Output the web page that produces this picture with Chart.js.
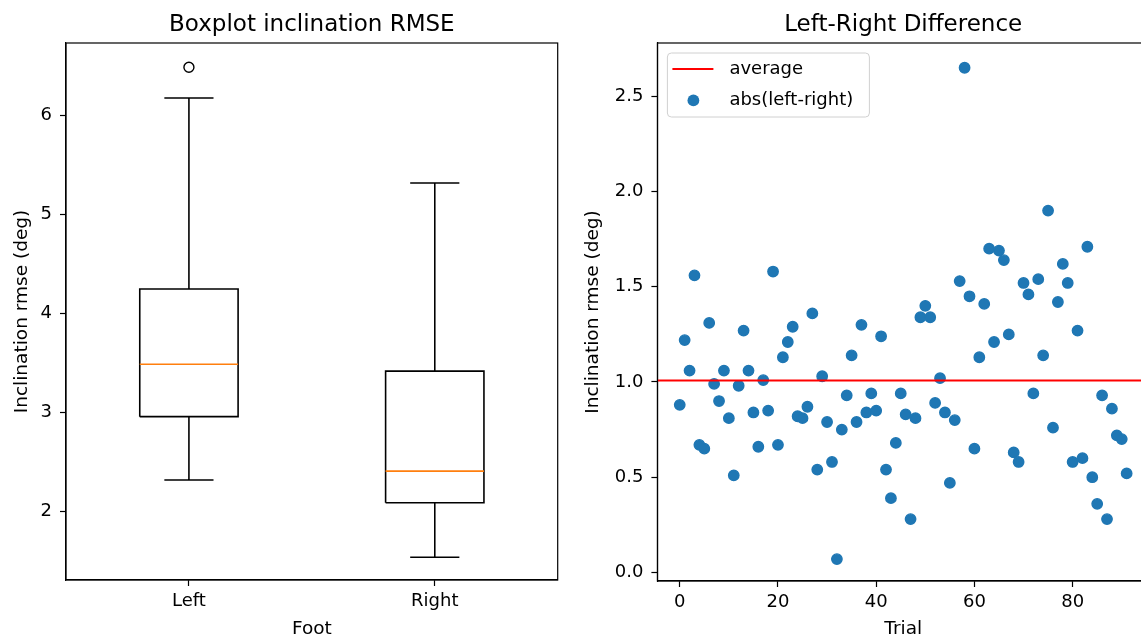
<!DOCTYPE html>
<html>
<head>
<meta charset="utf-8">
<title>Inclination RMSE</title>
<script src="https://cdn.jsdelivr.net/npm/chart.js@4.4.0/dist/chart.umd.min.js"></script>
<style>
  html, body { margin: 0; padding: 0; background: #fff; overflow: hidden; }
  #wrap { position: relative; width: 1141px; height: 642px; overflow: hidden; }
  #boxWrap { position: absolute; left: 0; top: 0; }
  #diffWrap { position: absolute; left: 570px; top: 0; }
</style>
</head>
<body>
<div id="wrap">
  <div id="boxWrap"><canvas id="boxChart" width="570" height="642"></canvas></div>
  <div id="diffWrap"><canvas id="diffChart" width="590" height="642"></canvas></div>
</div>
<script>
// boxplot summary per foot
const feet = ['Left', 'Right'];
const footPos = [1, 2];
const whiskerLow = [2.32, 1.54];
const q1 = [2.96, 2.09];
const median = [3.49, 2.41];
const q3 = [4.25, 3.42];
const whiskerHigh = [6.18, 5.32];
const fliers = [[6.49], []];
const boxYTicks = [2, 3, 4, 5, 6];

// abs(left-right) per trial
const diffValues = [
  0.88, 1.22, 1.06, 1.56, 0.67, 0.65, 1.31, 0.99, 0.90, 1.06,
  0.81, 0.51, 0.98, 1.27, 1.06, 0.84, 0.66, 1.01, 0.85, 1.58,
  0.67, 1.13, 1.21, 1.29, 0.82, 0.81, 0.87, 1.36, 0.54, 1.03,
  0.79, 0.58, 0.07, 0.75, 0.93, 1.14, 0.79, 1.30, 0.84, 0.94,
  0.85, 1.24, 0.54, 0.39, 0.68, 0.94, 0.83, 0.28, 0.81, 1.34,
  1.40, 1.34, 0.89, 1.02, 0.84, 0.47, 0.80, 1.53, 2.65, 1.45,
  0.65, 1.13, 1.41, 1.70, 1.21, 1.69, 1.64, 1.25, 0.63, 0.58,
  1.52, 1.46, 0.94, 1.54, 1.14, 1.90, 0.76, 1.42, 1.62, 1.52,
  0.58, 1.27, 0.60, 1.71, 0.50, 0.36, 0.93, 0.28, 0.86, 0.72,
  0.70, 0.52
];
const trialTicks = [0, 20, 40, 60, 80];
const diffYTicks = [0, 0.5, 1, 1.5, 2, 2.5];

const average = diffValues.reduce((a, b) => a + b, 0) / diffValues.length;

const BOX_HALF = 0.2;
const CAP_HALF = 0.1;
const TRIAL_MIN = -4.55, TRIAL_MAX = 95.55;

const FONT = "'DejaVu Sans', sans-serif";
Chart.defaults.font.family = FONT;
Chart.defaults.color = '#000';

// gap marker so one line dataset can hold several separate segments
const gap = (x) => ({ x: x, y: null });

function boxOutline() {
  const pts = [];
  footPos.forEach((p, i) => {
    pts.push({ x: p - BOX_HALF, y: q1[i] }, { x: p + BOX_HALF, y: q1[i] },
             { x: p + BOX_HALF, y: q3[i] }, { x: p - BOX_HALF, y: q3[i] },
             { x: p - BOX_HALF, y: q1[i] }, gap(p));
  });
  return pts;
}

function whiskerSegments() {
  const pts = [];
  footPos.forEach((p, i) => {
    pts.push({ x: p, y: q1[i] }, { x: p, y: whiskerLow[i] }, gap(p));
    pts.push({ x: p, y: q3[i] }, { x: p, y: whiskerHigh[i] }, gap(p));
    pts.push({ x: p - CAP_HALF, y: whiskerLow[i] }, { x: p + CAP_HALF, y: whiskerLow[i] }, gap(p));
    pts.push({ x: p - CAP_HALF, y: whiskerHigh[i] }, { x: p + CAP_HALF, y: whiskerHigh[i] }, gap(p));
  });
  return pts;
}

function medianSegments() {
  const pts = [];
  footPos.forEach((p, i) => {
    pts.push({ x: p - BOX_HALF, y: median[i] }, { x: p + BOX_HALF, y: median[i] }, gap(p));
  });
  return pts;
}

function flierPoints() {
  const pts = [];
  footPos.forEach((p, i) => fliers[i].forEach(v => pts.push({ x: p, y: v })));
  return pts;
}

// full box around the plot area, like matplotlib spines
const frame = {
  id: 'frame',
  afterDatasetsDraw(chart) {
    const { ctx, chartArea: a } = chart;
    ctx.save();
    ctx.strokeStyle = '#000';
    ctx.lineWidth = 1.2;
    ctx.strokeRect(a.left, a.top, a.right - a.left, a.bottom - a.top);
    ctx.restore();
  }
};

// title centred over the plot area rather than the canvas
const panelTitle = {
  id: 'panelTitle',
  afterDraw(chart, args, opts) {
    const { ctx, chartArea: a } = chart;
    ctx.save();
    ctx.font = opts.size + 'px ' + FONT;
    ctx.fillStyle = '#000';
    ctx.textAlign = 'center';
    ctx.textBaseline = 'alphabetic';
    ctx.fillText(opts.text, (a.left + a.right) / 2, opts.y);
    ctx.restore();
  }
};

// framed legend in the upper left corner of the plot area
const cornerLegend = {
  id: 'cornerLegend',
  afterDraw(chart) {
    const { ctx, chartArea: a } = chart;
    const x = a.left + 10, y = a.top + 10, w = 202, h = 64, r = 4;
    ctx.save();
    ctx.beginPath();
    ctx.roundRect(x, y, w, h, r);
    ctx.fillStyle = 'rgba(255,255,255,0.8)';
    ctx.fill();
    ctx.strokeStyle = '#d0d0d0';
    ctx.lineWidth = 1;
    ctx.stroke();
    ctx.font = '18px ' + FONT;
    ctx.textBaseline = 'middle';
    ctx.textAlign = 'left';
    chart.data.datasets.forEach((ds, i) => {
      const cy = y + 16 + i * 31.4;
      if (ds.showLine) {
        ctx.strokeStyle = ds.borderColor;
        ctx.lineWidth = ds.borderWidth;
        ctx.beginPath();
        ctx.moveTo(x + 5, cy);
        ctx.lineTo(x + 46, cy);
        ctx.stroke();
      } else {
        ctx.fillStyle = ds.backgroundColor;
        ctx.beginPath();
        ctx.arc(x + 26, cy, ds.pointRadius + ds.pointBorderWidth / 2, 0, Math.PI * 2);
        ctx.fill();
      }
      ctx.fillStyle = '#000';
      ctx.fillText(ds.label, x + 62, cy);
    });
    ctx.restore();
  }
};

function axis(extra) {
  return Object.assign({
    type: 'linear',
    grid: { drawOnChartArea: false, drawTicks: true, tickLength: 6, tickWidth: 1.2, tickColor: '#000' },
    border: { display: true, color: '#000', width: 1.2 }
  }, extra);
}

const lineSet = (label, data, color) => ({
  label: label, data: data, showLine: true, spanGaps: false,
  borderColor: color, borderWidth: 1.6, pointRadius: 0, pointHoverRadius: 0
});

new Chart(document.getElementById('boxChart'), {
  type: 'scatter',
  data: {
    datasets: [
      lineSet('median', medianSegments(), '#ff7f0e'),
      lineSet('box', boxOutline(), '#000'),
      lineSet('whiskers', whiskerSegments(), '#000'),
      {
        label: 'fliers', data: flierPoints(),
        pointRadius: 5, pointBorderWidth: 1.4, pointHoverRadius: 5,
        borderColor: '#000', backgroundColor: 'rgba(0,0,0,0)'
      }
    ]
  },
  options: {
    responsive: false,
    animation: false,
    layout: { padding: { left: 0, right: 12.3, top: 43, bottom: 0 } },
    plugins: {
      legend: { display: false },
      tooltip: { enabled: false },
      panelTitle: { text: 'Boxplot inclination RMSE', size: 23, y: 31 }
    },
    scales: {
      x: axis({
        min: 0.5, max: 2.5,
        afterBuildTicks: s => { s.ticks = footPos.map(v => ({ value: v })); },
        afterFit: s => { s.height = 62; },
        ticks: { callback: v => feet[footPos.indexOf(v)], font: { size: 18 }, padding: 5, maxRotation: 0 },
        title: { display: true, text: 'Foot', font: { size: 18.5 }, padding: { top: 0, bottom: 1.6 } }
      }),
      y: axis({
        min: 1.31, max: 6.735,
        afterBuildTicks: s => { s.ticks = boxYTicks.map(v => ({ value: v })); },
        afterFit: s => { s.width = 66; },
        ticks: { font: { size: 18 }, padding: 8 },
        title: { display: true, text: 'Inclination rmse (deg)', font: { size: 18.5 }, padding: { top: 10.6, bottom: 0 } }
      })
    }
  },
  plugins: [frame, panelTitle]
});

new Chart(document.getElementById('diffChart'), {
  type: 'scatter',
  data: {
    datasets: [
      {
        label: 'average',
        data: [{ x: TRIAL_MIN, y: average }, { x: TRIAL_MAX, y: average }],
        showLine: true, borderColor: '#ff0000', borderWidth: 2,
        pointRadius: 0, pointHoverRadius: 0
      },
      {
        label: 'abs(left-right)',
        data: diffValues.map((v, i) => ({ x: i, y: v })),
        pointRadius: 5.2, pointBorderWidth: 1.4, pointHoverRadius: 5.2,
        backgroundColor: '#1f77b4', borderColor: '#1f77b4'
      }
    ]
  },
  options: {
    responsive: false,
    animation: false,
    layout: { padding: { left: 0, right: 11, top: 43, bottom: 0 } },
    plugins: {
      legend: { display: false },
      tooltip: { enabled: false },
      panelTitle: { text: 'Left-Right Difference', size: 23, y: 31 }
    },
    scales: {
      x: axis({
        min: TRIAL_MIN, max: TRIAL_MAX,
        afterBuildTicks: s => { s.ticks = trialTicks.map(v => ({ value: v })); },
        afterFit: s => { s.height = 61; },
        ticks: { callback: v => String(v), font: { size: 18 }, padding: 5, maxRotation: 0 },
        title: { display: true, text: 'Trial', font: { size: 18.5 }, padding: { top: 0, bottom: 1.6 } }
      }),
      y: axis({
        min: -0.045, max: 2.78,
        afterBuildTicks: s => { s.ticks = diffYTicks.map(v => ({ value: v })); },
        afterFit: s => { s.width = 87.4; },
        ticks: { callback: v => v.toFixed(1), font: { size: 18 }, padding: 8 },
        title: { display: true, text: 'Inclination rmse (deg)', font: { size: 18.5 }, padding: { top: 11.6, bottom: 0 } }
      })
    }
  },
  plugins: [frame, panelTitle, cornerLegend]
});
</script>
</body>
</html>
